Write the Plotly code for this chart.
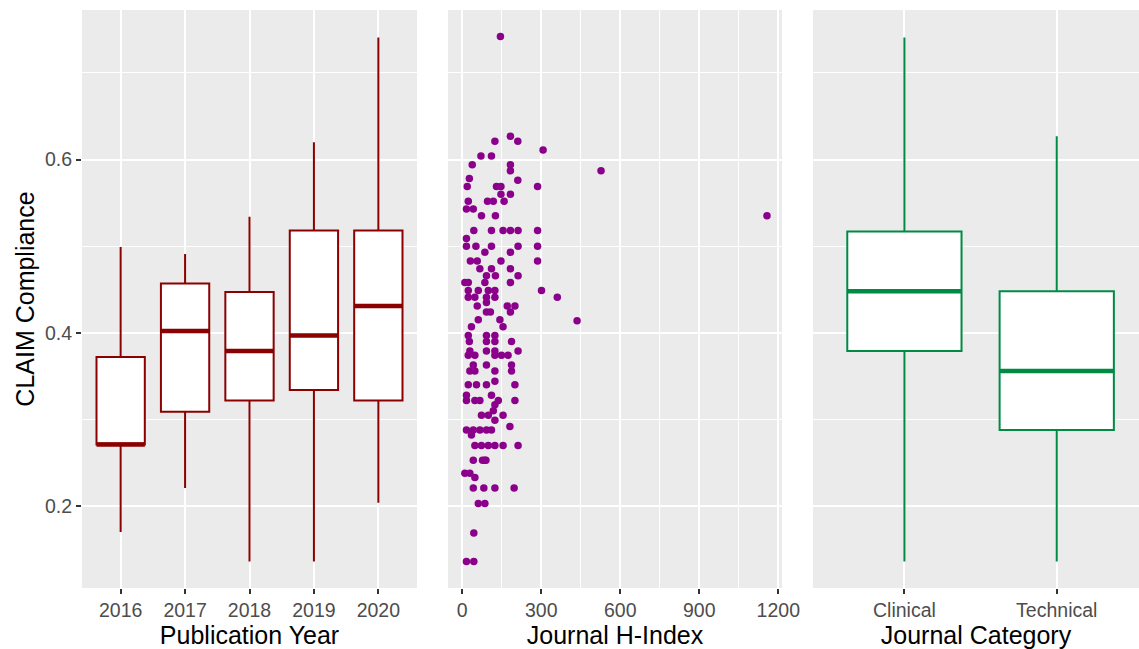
import plotly.graph_objects as go

# ---- Panel 1: CLAIM compliance by publication year (box summaries) ----
years = [2016, 2017, 2018, 2019, 2020]
year_low = [0.170, 0.221, 0.136, 0.136, 0.204]
year_q1 = [0.271, 0.309, 0.322, 0.334, 0.322]
year_med = [0.271, 0.402, 0.379, 0.397, 0.431]
year_q3 = [0.372, 0.457, 0.447, 0.518, 0.518]
year_high = [0.499, 0.491, 0.534, 0.620, 0.741]

# ---- Panel 3: CLAIM compliance by journal category ----
categories = ["Clinical", "Technical"]
cat_low = [0.136, 0.136]
cat_q1 = [0.379, 0.288]
cat_med = [0.448, 0.356]
cat_q3 = [0.517, 0.448]
cat_high = [0.741, 0.627]

# ---- Panel 2: journal H-index vs CLAIM compliance ----
h_index = [
    145, 183, 124, 211, 307, 71, 111, 38, 183, 183, 527, 27, 211,
    19, 130, 147, 286, 147, 183, 23, 96, 118, 159, 16, 42, 73, 126, 1157,
    44, 111, 155, 183, 212, 286, 16, 16, 52, 111, 212, 286, 86, 183,
    31, 57, 147, 286, 67, 111, 183, 92, 126, 212, 10, 23, 86, 183,
    23, 61, 99, 124, 301, 23, 48, 92, 124, 361, 92, 57, 171, 200,
    92, 107, 183, 61, 143, 436, 35, 155, 23, 92, 124, 27, 92, 124, 187,
    29, 92, 124, 212, 23, 48, 124, 149, 174, 42, 92, 187, 29, 48, 124, 187,
    23, 54, 92, 124, 200, 16, 111, 16, 48, 67, 137, 200, 124, 118,
    73, 99, 155, 124, 181, 16, 42, 67, 92, 111, 35,
    48, 73, 99, 124, 155, 212, 42, 86, 77, 90, 10, 29, 48,
    42, 82, 124, 197, 61, 86, 44, 16, 44,
]
compliance = [
    0.742, 0.627, 0.621, 0.621, 0.611, 0.604, 0.604, 0.594, 0.594, 0.587, 0.587, 0.578, 0.576,
    0.569, 0.569, 0.569, 0.569, 0.560, 0.560, 0.552, 0.552, 0.552, 0.552, 0.543, 0.543, 0.535, 0.535, 0.535,
    0.518, 0.518, 0.518, 0.518, 0.518, 0.518, 0.509, 0.500, 0.500, 0.500, 0.500, 0.500, 0.493, 0.493,
    0.483, 0.483, 0.483, 0.483, 0.474, 0.474, 0.474, 0.466, 0.466, 0.466, 0.458, 0.458, 0.458, 0.458,
    0.449, 0.449, 0.449, 0.449, 0.449, 0.441, 0.441, 0.441, 0.441, 0.441, 0.435, 0.431, 0.431, 0.431,
    0.424, 0.424, 0.424, 0.415, 0.415, 0.414, 0.407, 0.407, 0.397, 0.397, 0.397, 0.390, 0.390, 0.390, 0.390,
    0.379, 0.379, 0.379, 0.379, 0.374, 0.374, 0.374, 0.374, 0.374, 0.363, 0.363, 0.363, 0.356, 0.356, 0.356, 0.356,
    0.340, 0.340, 0.340, 0.344, 0.340, 0.328, 0.328, 0.322, 0.322, 0.322, 0.322, 0.322, 0.317, 0.310,
    0.305, 0.305, 0.305, 0.299, 0.292, 0.288, 0.288, 0.288, 0.288, 0.288, 0.282,
    0.270, 0.270, 0.270, 0.270, 0.270, 0.270, 0.253, 0.253, 0.253, 0.253, 0.238, 0.238, 0.233,
    0.221, 0.221, 0.221, 0.221, 0.203, 0.203, 0.169, 0.136, 0.136,
]

RED = "#8B0000"
PURPLE = "#8B008B"
GREEN = "#008B45"
BOX_W = 0.75
FONT = "Liberation Sans, Arial, sans-serif"

fig = go.Figure()

# Year boxes
fig.add_trace(go.Box(
    x=years, q1=year_q1, median=year_med, q3=year_q3,
    lowerfence=year_low, upperfence=year_high,
    width=BOX_W, whiskerwidth=0, fillcolor="white",
    line=dict(color=RED, width=2), xaxis="x", yaxis="y",
    showlegend=False, hoverinfo="skip",
))
mx, my = [], []
for yr, m in zip(years, year_med):
    mx += [yr - BOX_W / 2, yr + BOX_W / 2, None]
    my += [m, m, None]
fig.add_trace(go.Scatter(x=mx, y=my, mode="lines", line=dict(color=RED, width=4.5),
                         xaxis="x", yaxis="y", showlegend=False, hoverinfo="skip"))

# Scatter
fig.add_trace(go.Scatter(
    x=h_index, y=compliance, mode="markers",
    marker=dict(color=PURPLE, size=7.5, line=dict(width=0)),
    xaxis="x2", yaxis="y2", showlegend=False,
))

# Category boxes
cat_pos = list(range(1, len(categories) + 1))
fig.add_trace(go.Box(
    x=cat_pos, q1=cat_q1, median=cat_med, q3=cat_q3,
    lowerfence=cat_low, upperfence=cat_high,
    width=BOX_W, whiskerwidth=0, fillcolor="white",
    line=dict(color=GREEN, width=2), xaxis="x3", yaxis="y3",
    showlegend=False, hoverinfo="skip",
))
cx, cy = [], []
for p, m in zip(cat_pos, cat_med):
    cx += [p - BOX_W / 2, p + BOX_W / 2, None]
    cy += [m, m, None]
fig.add_trace(go.Scatter(x=cx, y=cy, mode="lines", line=dict(color=GREEN, width=4.5),
                         xaxis="x3", yaxis="y3", showlegend=False, hoverinfo="skip"))

W = 1139 - 82
d1 = [0, 335 / W]
d2 = [366 / W, 700 / W]
d3 = [731 / W, 1]

tickfont = dict(family=FONT, size=19.5, color="#4D4D4D")
titlefont = dict(family=FONT, size=25, color="black")
common_x = dict(showgrid=True, gridcolor="white", gridwidth=2.2, zeroline=False,
                ticks="outside", ticklen=5, tickwidth=1.6, tickcolor="#333333",
                tickfont=tickfont, showline=False, automargin=False)
yrange = [0.1055, 0.7726]
minor_y = dict(tickmode="array", tickvals=[0.1, 0.3, 0.5, 0.7], showgrid=True,
               gridcolor="white", gridwidth=1.1, ticks="")
common_y = dict(range=yrange, showgrid=True, gridcolor="white", gridwidth=2.2,
                zeroline=False, tickvals=[0.2, 0.4, 0.6], minor=minor_y, showline=False,
                automargin=False)

fig.update_layout(
    width=1139, height=649, autosize=False,
    margin=dict(l=82, r=0, t=10, b=61, autoexpand=False),
    paper_bgcolor="white", plot_bgcolor="#EBEBEB",
    font=dict(family=FONT),
    xaxis=dict(domain=d1, range=[2015.4, 2020.6], tickvals=years,
               ticktext=[str(y) for y in years], anchor="y",
               title=dict(text="Publication Year", font=titlefont, standoff=4), **common_x),
    xaxis2=dict(domain=d2, range=[-54, 1214], tickvals=[0, 300, 600, 900, 1200], anchor="y2",
                minor=dict(tickmode="array", tickvals=[150, 450, 750, 1050], showgrid=True,
                           gridcolor="white", gridwidth=1.1, ticks=""),
                title=dict(text="Journal H-Index", font=titlefont, standoff=4), **common_x),
    xaxis3=dict(domain=d3, range=[0.4, 2.54], tickvals=cat_pos, ticktext=categories, anchor="y3",
                title=dict(text="Journal Category", font=titlefont, standoff=4), **common_x),
    yaxis=dict(domain=[0, 1], anchor="x", ticks="outside", ticklen=5, tickwidth=1.6,
               tickcolor="#333333", tickfont=tickfont, ticktext=["0.2", "0.4", "0.6"],
               title=dict(text="CLAIM Compliance", font=titlefont, standoff=3), **common_y),
    yaxis2=dict(domain=[0, 1], anchor="x2", matches="y", showticklabels=False, ticks="", **common_y),
    yaxis3=dict(domain=[0, 1], anchor="x3", matches="y", showticklabels=False, ticks="", **common_y),
)

fig.write_html("out.html")
